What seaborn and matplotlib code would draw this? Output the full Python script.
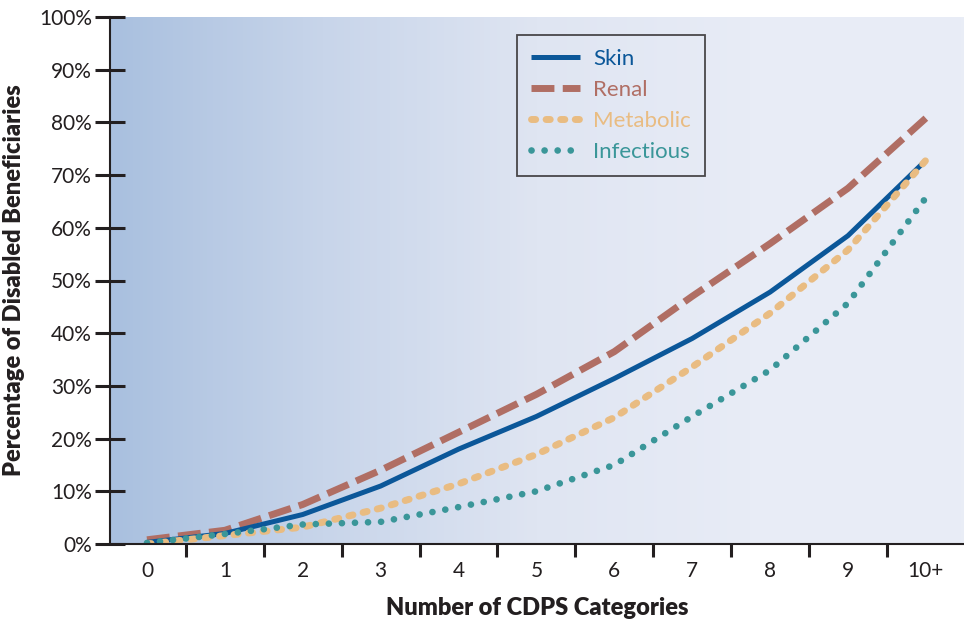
import numpy as np
import pandas as pd
import matplotlib
matplotlib.use("Agg")
import matplotlib.pyplot as plt
from matplotlib.lines import Line2D
import seaborn as sns

# data (percent of disabled beneficiaries)
categories = ["0", "1", "2", "3", "4", "5", "6", "7", "8", "9", "10+"]
skin = [0.3, 2.0, 5.6, 11.0, 18.0, 24.2, 31.4, 39.0, 47.8, 58.5, 72.8]
renal = [0.8, 2.6, 7.5, 14.0, 21.2, 28.4, 36.5, 47.0, 57.0, 67.5, 80.8]
metabolic = [0.0, 1.6, 3.2, 6.8, 11.4, 17.0, 24.0, 33.6, 43.8, 55.8, 72.8]
infectious = [0.2, 1.9, 3.7, 4.2, 7.0, 10.0, 15.0, 24.2, 33.0, 45.7, 65.7]
y_ticks = [0, 10, 20, 30, 40, 50, 60, 70, 80, 90, 100]

series_names = ["Skin", "Renal", "Metabolic", "Infectious"]
colors = {"Skin": "#0b5799", "Renal": "#b06e64", "Metabolic": "#e9bc82", "Infectious": "#3a9699"}

rows = []
for name, vals in zip(series_names, [skin, renal, metabolic, infectious]):
    for i, v in enumerate(vals):
        rows.append({"pos": i, "pct": v, "series": name})
df = pd.DataFrame(rows)

sns.set_theme(style="white")
plt.rcParams["font.family"] = ["Lato", "DejaVu Sans"]

fig = plt.figure(figsize=(9.64, 6.24), dpi=100)
ax = fig.add_axes([110 / 964, 80 / 624, 854 / 964, 527 / 624])

# gradient background
grad = np.linspace(0, 1, 256).reshape(1, -1)
cmap = matplotlib.colors.LinearSegmentedColormap.from_list(
    "bg", ["#a9c0df", "#c8d5ea", "#dfe5f2", "#e8ecf6", "#e9edf6"])
ax.imshow(grad, aspect="auto", cmap=cmap, extent=[0, 1, 0, 1],
          transform=ax.transAxes, zorder=0)

styles = {
    "Skin": dict(lw=3.6, linestyle="-", solid_capstyle="butt"),
    "Renal": dict(lw=5.0, linestyle=(0, (3.3, 1.2)), dash_capstyle="butt"),
    "Metabolic": dict(lw=5.0, linestyle=(0, (0.6, 1.5)), dash_capstyle="round"),
    "Infectious": dict(lw=4.8, linestyle=(0, (0.01, 1.95)), dash_capstyle="round"),
}
draw_order = ["Renal", "Skin", "Metabolic", "Infectious"]
for name in draw_order:
    sub = df[df["series"] == name]
    sns.lineplot(data=sub, x="pos", y="pct", ax=ax, color=colors[name],
                 zorder=3, **styles[name])

ax.set_xlim(-0.475, 10.49)
ax.set_ylim(0, 100)

ax.set_yticks(y_ticks)
ax.set_yticklabels([f"{t}%" for t in y_ticks])
ax.set_xticks(range(len(categories)))
ax.set_xticklabels(categories)
ax.set_xticks(np.arange(0.5, 10, 1), minor=True)

ax.tick_params(axis="y", which="major", direction="inout", length=22, width=2.2,
               color="#231f20", labelsize=15, labelcolor="#231f20", pad=2, left=True)
ax.tick_params(axis="x", which="major", length=0, labelsize=15,
               labelcolor="#231f20", pad=12)
ax.tick_params(axis="x", which="minor", direction="out", length=9, width=2.2,
               color="#231f20", bottom=True)

for side in ["top", "right"]:
    ax.spines[side].set_visible(False)
for side in ["left", "bottom"]:
    ax.spines[side].set_color("#231f20")
    ax.spines[side].set_linewidth(1.5)
    ax.spines[side].set_zorder(5)

ax.set_xlabel("Number of CDPS Categories", fontsize=17, fontweight="heavy",
              color="#231f20", labelpad=12)
ax.set_ylabel("Percentage of Disabled Beneficiaries", fontsize=17, fontweight="heavy",
              color="#231f20", labelpad=10)

handles = [Line2D([0], [0], color=colors[n], **styles[n]) for n in series_names]
leg = ax.legend(handles, series_names, loc="upper left",
                bbox_to_anchor=(0.4766, 0.966), borderaxespad=0,
                frameon=True, fancybox=False, fontsize=16, handlelength=2.2,
                handletextpad=0.6, labelspacing=0.5, borderpad=0.62)
leg.get_frame().set_edgecolor("#231f20")
leg.get_frame().set_linewidth(1.3)
leg.get_frame().set_facecolor("none")
for txt, n in zip(leg.get_texts(), series_names):
    txt.set_color(colors[n])

fig.savefig("out.png", dpi=100)
